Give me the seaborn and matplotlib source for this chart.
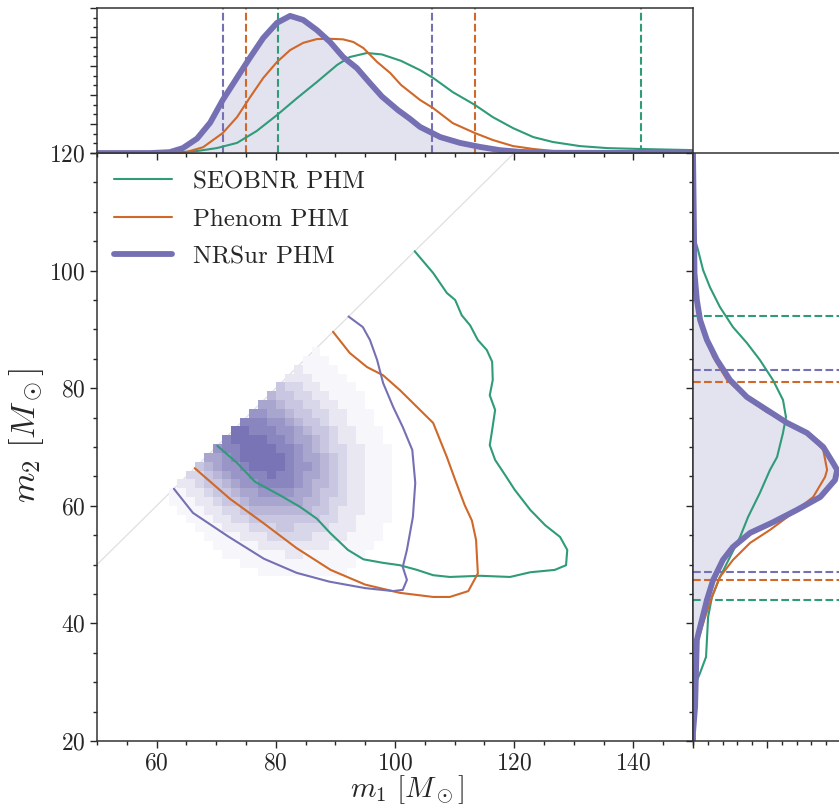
import numpy as np
import matplotlib
matplotlib.use("Agg")
import matplotlib.pyplot as plt
from matplotlib.colors import LinearSegmentedColormap
from matplotlib.ticker import MultipleLocator
import seaborn as sns

# ---------------- data ----------------
labels = ["SEOBNR PHM", "Phenom PHM", "NRSur PHM"]

# m1 marginals (top panel)
m1_seob = [50, 62.0, 66.8, 70.1, 73.5, 76.8, 80.2, 83.6, 86.9, 90.3, 92.4, 95.3, 97.8, 101.0, 104.2,
           106.4, 109.7, 113.4, 116.4, 119.8, 123.2, 126.5, 131, 135.6, 141.1, 150]
d1_seob = [0, 0, 0.0007, 0.0017, 0.0035, 0.0076, 0.0131, 0.019, 0.0245, 0.0304, 0.0331, 0.0345,
           0.034, 0.0318, 0.0286, 0.0259, 0.021, 0.0166, 0.0124, 0.0086, 0.0055, 0.0038, 0.0024,
           0.0017, 0.0014, 0.001]
m1_phen = [50, 64.4, 67.8, 71.1, 73.5, 75.7, 77.9, 80.2, 82.4, 84.6, 86.9, 89.1, 91.3, 93.0, 94.7,
           97.0, 99.2, 101.0, 104.2, 106.4, 109.7, 113.4, 116.4, 119.8, 123.2, 126.5, 131, 136, 150]
d1_phen = [0, 0, 0.002, 0.0069, 0.0124, 0.0193, 0.0259, 0.0314, 0.0355, 0.038, 0.0393, 0.0394,
           0.0392, 0.0383, 0.0362, 0.0314, 0.0276, 0.0235, 0.0183, 0.0155, 0.0103, 0.0069, 0.0045,
           0.0024, 0.0014, 0.0007, 0.0003, 0.0001, 0]
m1_nrs = [50, 58.9, 62.2, 64.4, 66.8, 69.0, 71.1, 73.5, 75.7, 77.9, 80.2, 82.4, 84.6, 86.9, 89.1,
          91.3, 93.6, 95.8, 97.8, 100.5, 102.5, 104.2, 107.6, 110.9, 114.3, 117.6, 121.0, 126, 150]
d1_nrs = [0, 0, 0.0003, 0.0017, 0.005, 0.0105, 0.0183, 0.026, 0.033, 0.0397, 0.0449, 0.0473, 0.0459,
          0.0424, 0.0383, 0.0331, 0.0293, 0.0241, 0.0195, 0.0148, 0.0118, 0.009, 0.0055, 0.0035,
          0.0021, 0.001, 0.0004, 0.0001, 0]

# m2 marginals (right panel)
m2_seob = [120, 106.4, 103.5, 100.1, 97.2, 93.8, 90.4, 87.7, 84.8, 81.4, 78.0, 75.1, 72.4, 68.3,
           66.1, 62.2, 58.1, 54.7, 51.3, 47.9, 44.5, 41.1, 37.2, 34.3, 31.6, 29.9, 28.2, 20]
d2_seob = [0, 0, 0.0017, 0.0034, 0.0057, 0.0091, 0.0135, 0.0182, 0.0226, 0.027, 0.0304, 0.0314,
           0.0304, 0.0284, 0.026, 0.0226, 0.0186, 0.0159, 0.0125, 0.0091, 0.0064, 0.0051, 0.0047,
           0.0044, 0.0024, 0.001, 0, 0]
m2_phen = [120, 98.4, 92.8, 89.4, 85.3, 81.4, 78.3, 75.9, 74.3, 72.4, 69.5, 66.1, 64.9, 61.5, 58.8,
           55.9, 53.7, 50.8, 47.9, 44.5, 41.1, 37.2, 31.6, 28.2, 20]
d2_phen = [0, 0, 0.0017, 0.0034, 0.0068, 0.0115, 0.0182, 0.025, 0.0318, 0.0385, 0.044, 0.0453,
           0.0446, 0.0406, 0.0338, 0.026, 0.0193, 0.0135, 0.0091, 0.0064, 0.0041, 0.0017, 0.0007,
           0, 0]
m2_nrs = [120, 99.6, 95.0, 91.6, 88.2, 84.8, 81.4, 78.5, 76.3, 74.1, 72.4, 70.0, 67.3, 66.1, 64.4,
          61.5, 59.3, 57.2, 55.4, 53.0, 50.8, 47.4, 44.0, 40.6, 37.2, 31.6, 25.8, 21.4, 20]
d2_nrs = [0, 0.0005, 0.0013, 0.0024, 0.0047, 0.0081, 0.0125, 0.0182, 0.025, 0.0318, 0.0385, 0.044,
          0.0473, 0.0487, 0.048, 0.043, 0.0351, 0.027, 0.0193, 0.0135, 0.0101, 0.0068, 0.0047,
          0.003, 0.0013, 0.001, 0.0007, 0, 0]

# 90% bounds (dashed lines)
m1_bounds = {"seob": [80.4, 141.3], "phen": [75.0, 113.4], "nrs": [71.1, 106.2]}
m2_bounds = {"seob": [44.0, 92.3], "phen": [47.4, 81.1], "nrs": [48.7, 83.1]}

# 90% contours in the m1-m2 plane
seob_c_m1 = [70.2, 73.5, 76.5, 80.7, 84.1, 86.9, 89.1, 92.1, 94.7, 98.0, 100.8, 103.7, 106.4, 109.2,
             114.3, 119.3, 122.7, 126.8, 128.7, 128.9, 127.7, 125.2, 122.7, 120.1, 118.5, 116.8,
             115.9, 116.3, 116.8, 115.9, 116.4, 116.3, 115.4, 113.9, 112.6, 111.2, 110.1, 108.7,
             106.4, 103.3]
seob_c_m2 = [70.2, 67.3, 64.1, 61.8, 59.8, 57.8, 55.4, 52.5, 50.9, 50.3, 49.9, 49.1, 48.2, 47.9,
             48.1, 47.9, 48.7, 49.1, 49.9, 52.5, 54.7, 56.7, 59.3, 62.7, 65.2, 67.8, 70.3, 72.9,
             76.3, 78.8, 81.4, 84.5, 86.5, 88.2, 90.7, 92.4, 95.0, 96.2, 99.6, 103.3]
phen_c_m1 = [66.4, 72.3, 78.0, 83.5, 89.2, 95.0, 100.8, 106.4, 109.2, 112.3, 113.9, 113.6, 112.9,
             111.7, 110.1, 108.7, 106.4, 103.7, 100.8, 98.0, 95.3, 92.4, 89.6]
phen_c_m2 = [66.4, 61.2, 57.0, 52.8, 49.1, 46.6, 45.2, 44.5, 44.5, 45.5, 48.5, 54.2, 57.5, 60.1,
             64.4, 68.3, 74.1, 76.8, 79.7, 82.2, 83.6, 86.0, 89.6]
nrs_c_m1 = [62.9, 66.1, 72.0, 78.0, 83.5, 89.0, 95.0, 99.7, 101.3, 102.0, 101.3, 102.0, 103.0, 103.4,
            102.9, 101.3, 99.7, 98.0, 97.0, 95.8, 94.6, 92.2]
nrs_c_m2 = [62.9, 58.8, 54.8, 51.0, 48.6, 47.1, 46.0, 45.5, 45.7, 47.4, 49.6, 52.5, 58.1, 63.9,
            69.5, 73.4, 76.8, 80.9, 84.8, 88.2, 90.4, 92.2]

# NRSur 2D histogram, 1.5 Msun cells: rows from m2=92.25 down to 42.75, columns m1=59.75..106.25
nrs_grid = [
    "00000000000000000000000000000000",
    "00000000000000000000000000000000",
    "00000000000000000000000000000000",
    "00000000000000000000000000000000",
    "00000000000000000010000000000000",
    "00000000000000000111000000000000",
    "00000000000000002111100000000000",
    "00000000000000022211110000000000",
    "00000000000000433221111000000000",
    "00000000000005443322111100000000",
    "00000000000066544332211100000000",
    "00000000000776654433221110000000",
    "00000000008887765443221110000000",
    "00000000099888776544322111000000",
    "00000000899998876654322111000000",
    "00000007889999887654332211100000",
    "00000066789999987665432211100000",
    "00000456778999987765432211100000",
    "00003345677889887665432211100000",
    "00022344567788887655432211100000",
    "00112234456677776654432211100000",
    "00111223445666666554332211100000",
    "00011122334555555544322211100000",
    "00001112233444444443322111100000",
    "00000111222333443333222111000000",
    "00000011112223333322221111000000",
    "00000001111122222222111110000000",
    "00000000111111122111111100000000",
    "00000000001111111111111000000000",
    "00000000000011111111110000000000",
    "00000000000000000000000000000000",
    "00000000000000000000000000000000",
    "00000000000000000000000000000000",
    "00000000000000000000000000000000",
]

# ---------------- style ----------------
sns.set_theme(style="ticks")
plt.rcParams["font.family"] = "serif"
plt.rcParams["font.serif"] = ["cmr10"]
plt.rcParams["mathtext.fontset"] = "cm"
plt.rcParams["axes.formatter.use_mathtext"] = True
plt.rcParams["axes.unicode_minus"] = False

colors = {"seob": "#2f9b79", "phen": "#cf6828", "nrs": "#7570b3"}

fig = plt.figure(figsize=(8.39, 8.05), dpi=100)
ax = fig.add_axes([0.1156, 0.0795, 0.7104, 0.7304])
ax_top = fig.add_axes([0.1156, 0.8099, 0.7104, 0.1801], sharex=ax)
ax_right = fig.add_axes([0.826, 0.0795, 0.1764, 0.7304], sharey=ax)

# ---------------- main panel ----------------
x_edges = np.arange(59, 107.01, 1.5)
y_edges = np.arange(42, 93.01, 1.5)
xc = (x_edges[:-1] + x_edges[1:]) / 2
yc = (y_edges[:-1] + y_edges[1:]) / 2
gx, gy = np.meshgrid(xc, yc[::-1])
weights = np.array([[int(c) for c in row] for row in nrs_grid], dtype=float)

nrs_cmap = LinearSegmentedColormap.from_list("nrs", ["white", colors["nrs"]])
sns.histplot(x=gx.ravel(), y=gy.ravel(), weights=weights.ravel(), bins=[x_edges, y_edges],
             cmap=nrs_cmap, vmin=0.5, vmax=9.3, ax=ax, zorder=1)

ax.plot([50, 150], [50, 150], color="0.88", lw=0.9, zorder=0)
ax.plot(seob_c_m1, seob_c_m2, color=colors["seob"], lw=1.5, zorder=3)
ax.plot(phen_c_m1, phen_c_m2, color=colors["phen"], lw=1.5, zorder=3)
ax.plot(nrs_c_m1, nrs_c_m2, color=colors["nrs"], lw=1.5, zorder=3)

ax.set_xlim(50, 150)
ax.set_ylim(20, 120)
ax.xaxis.set_major_locator(MultipleLocator(20))
ax.yaxis.set_major_locator(MultipleLocator(20))
ax.xaxis.set_minor_locator(MultipleLocator(5))
ax.yaxis.set_minor_locator(MultipleLocator(5))
ax.set_xlabel(r"$m_1\ [M_\odot]$", fontsize=21)
ax.xaxis.set_label_coords(0.52, -0.054)
ax.set_ylabel(r"$m_2\ [M_\odot]$", fontsize=25, labelpad=2)
ax.yaxis.label.set_y(0.52)

# ---------------- top marginal ----------------
ax_top.fill_between(m1_nrs, d1_nrs, color=colors["nrs"], alpha=0.2, lw=0)
for key in ["seob", "phen", "nrs"]:
    for b in m1_bounds[key]:
        ax_top.axvline(b, color=colors[key], lw=1.5, ls="--")
h1, = ax_top.plot(m1_seob, d1_seob, color=colors["seob"], lw=1.5)
h2, = ax_top.plot(m1_phen, d1_phen, color=colors["phen"], lw=1.5)
h3, = ax_top.plot(m1_nrs, d1_nrs, color=colors["nrs"], lw=4.2)
ax_top.set_ylim(0, 0.05)
ax_top.yaxis.set_major_locator(MultipleLocator(0.01))
ax_top.yaxis.set_minor_locator(MultipleLocator(0.01 / 3))
ax_top.tick_params(labelbottom=False, labelleft=False)

# ---------------- right marginal ----------------
ax_right.fill_betweenx(m2_nrs, d2_nrs, color=colors["nrs"], alpha=0.2, lw=0)
for key in ["seob", "phen", "nrs"]:
    for b in m2_bounds[key]:
        ax_right.axhline(b, color=colors[key], lw=1.5, ls="--")
ax_right.plot(d2_seob, m2_seob, color=colors["seob"], lw=1.5)
ax_right.plot(d2_phen, m2_phen, color=colors["phen"], lw=1.5)
ax_right.plot(d2_nrs, m2_nrs, color=colors["nrs"], lw=4.2)
ax_right.set_xlim(0, 0.05)
ax_right.xaxis.set_major_locator(MultipleLocator(0.025))
ax_right.xaxis.set_minor_locator(MultipleLocator(0.005))
ax_right.tick_params(labelbottom=False, labelleft=False)

for a in (ax, ax_top, ax_right):
    a.tick_params(which="both", direction="out", color="0.15", width=1, labelsize=17)
    a.tick_params(which="major", length=5)
    a.tick_params(which="minor", length=3)
    for s in a.spines.values():
        s.set_linewidth(1.1)
        s.set_color("0.2")

ax.legend([h1, h2, h3], labels, loc="upper left", frameon=False, fontsize=18,
          handlelength=2.3, handletextpad=0.85, borderaxespad=0.3, labelspacing=0.6)

fig.savefig("out.png", dpi=100)
